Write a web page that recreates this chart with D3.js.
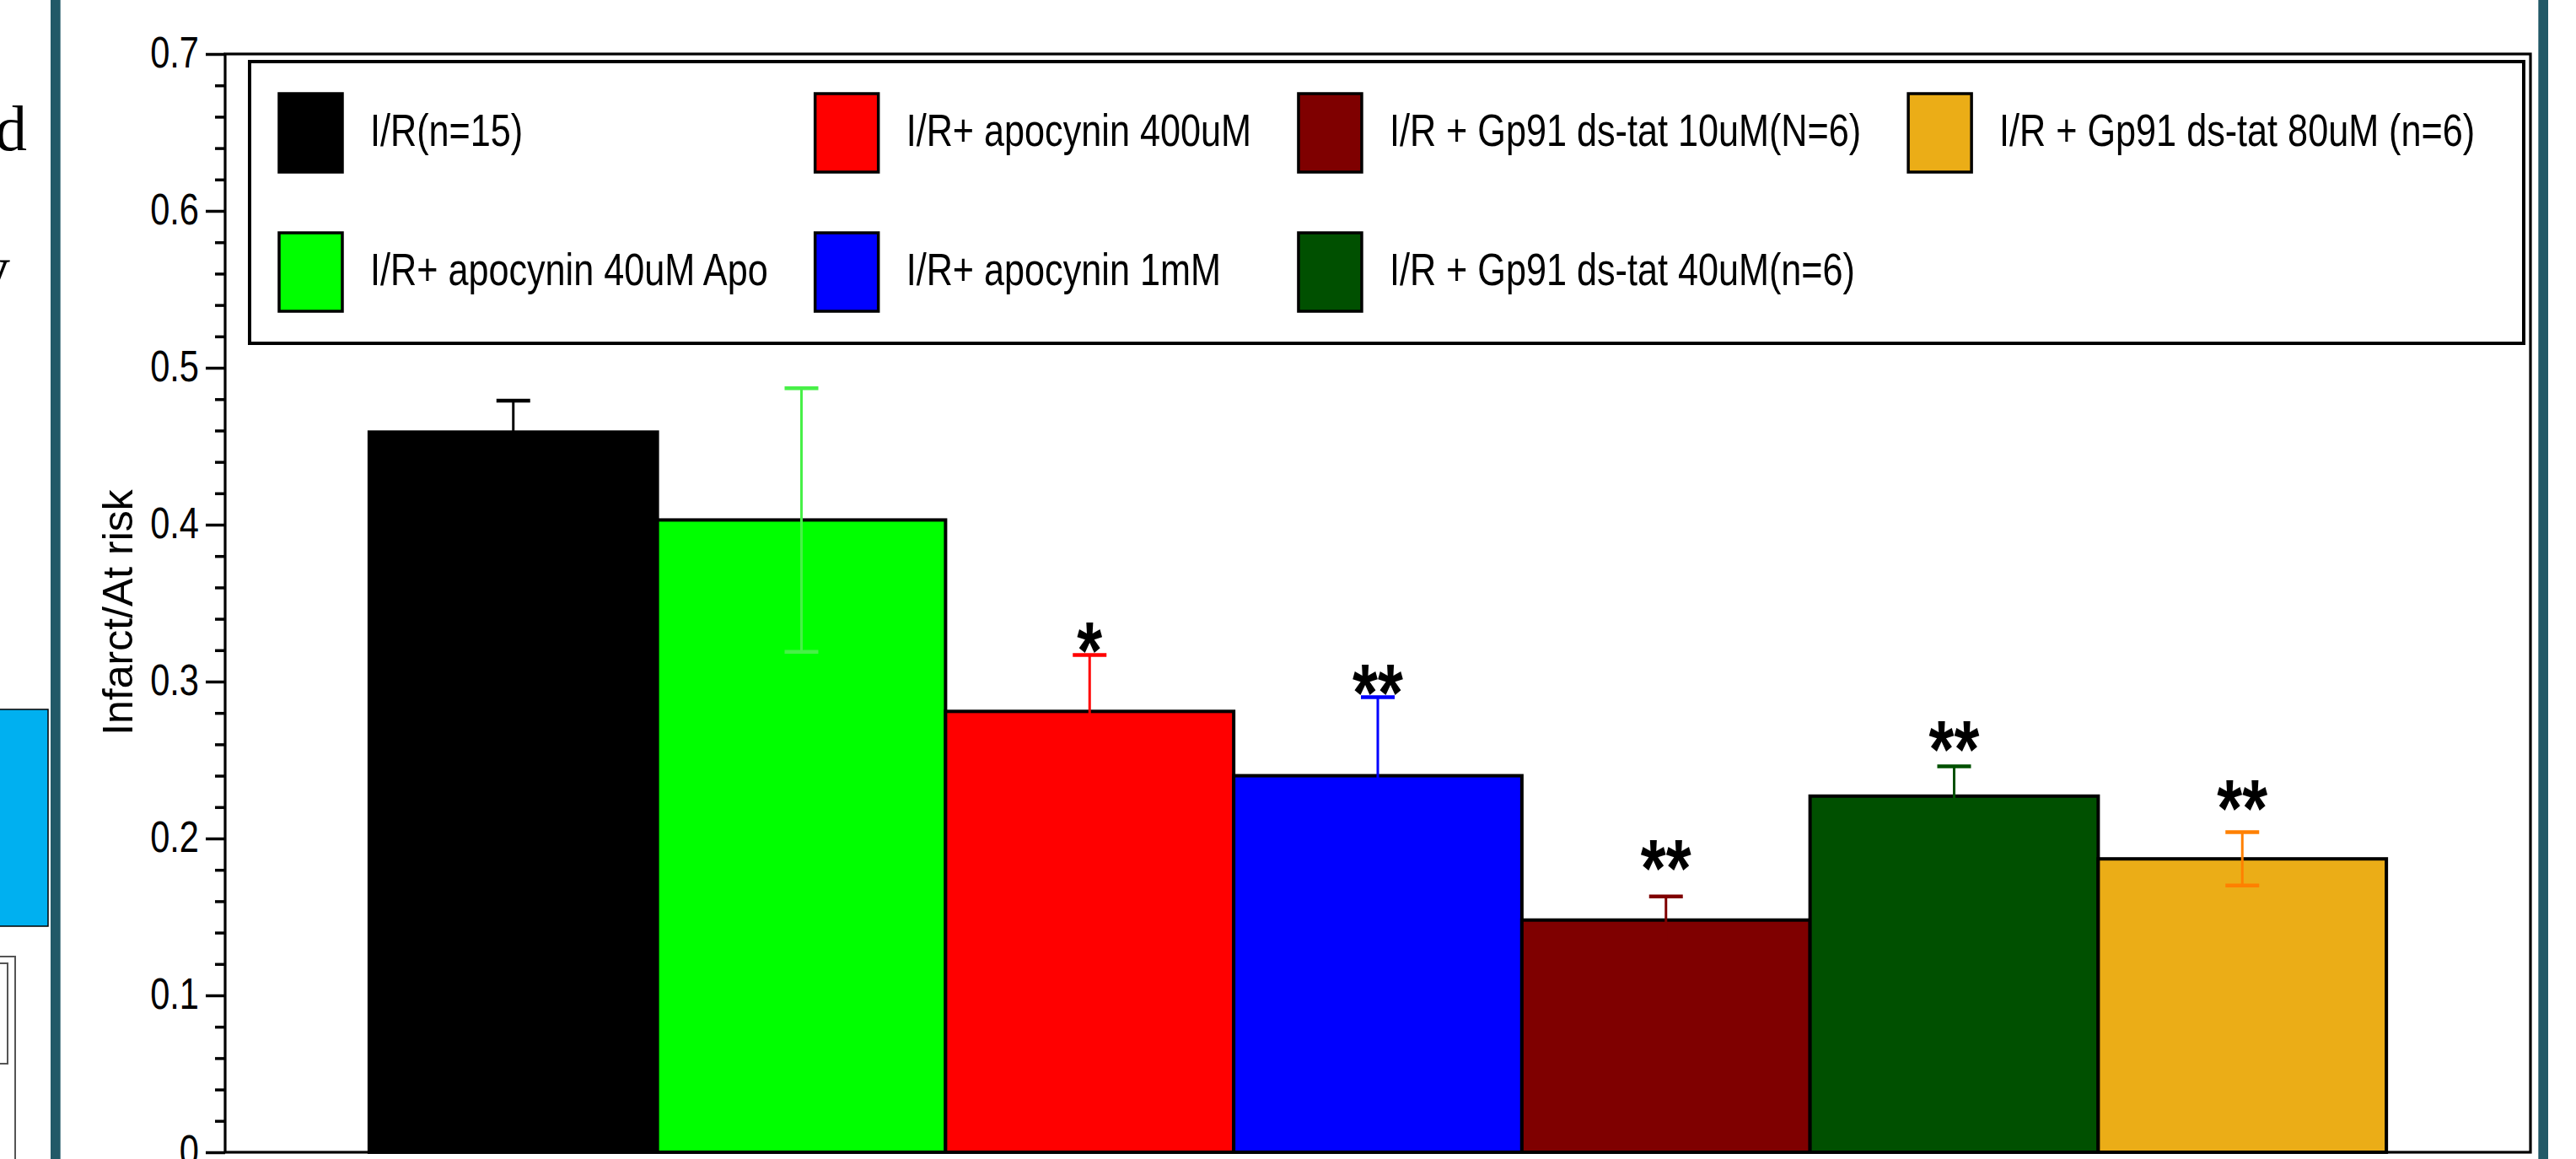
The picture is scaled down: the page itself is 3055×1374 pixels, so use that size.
<!DOCTYPE html>
<html>
<head>
<meta charset="utf-8">
<script src="https://cdn.jsdelivr.net/npm/d3@7"></script>
<style>
  html, body { margin: 0; padding: 0; background: #ffffff; overflow: hidden; }
  svg { display: block; }
</style>
</head>
<body>
<svg id="chart" width="3055" height="1374"></svg>
<script>
// Treatment groups, in bar order
const groups = [
  "I/R(n=15)",
  "I/R+ apocynin 40uM Apo",
  "I/R+ apocynin 400uM",
  "I/R+ apocynin 1mM",
  "I/R + Gp91 ds-tat 10uM(N=6)",
  "I/R + Gp91 ds-tat 40uM(n=6)",
  "I/R + Gp91 ds-tat 80uM (n=6)"
];
// Infarct / area at risk, mean and SEM
const means = [0.459, 0.403, 0.281, 0.240, 0.148, 0.227, 0.187];
const sems  = [0.020, 0.084, 0.036, 0.050, 0.015, 0.019, 0.017];
// Significance marks and the level they sit at
const sigMarks  = ["", "", "*", "**", "**", "**", "**"];
const sigLevels = [null, null, 0.318, 0.291, 0.179, 0.255, 0.217];
// Colours
const fills     = ["#000000", "#00ff00", "#ff0000", "#0000ff", "#7f0000", "#005000", "#ebad17"];
const errColors = ["#000000", "#48f048", "#ff0000", "#0000ff", "#7f0000", "#005000", "#ff8000"];
// Axis
const yTicks = [0, 0.1, 0.2, 0.3, 0.4, 0.5, 0.6, 0.7];
const yTickLabels = ["0", "0.1", "0.2", "0.3", "0.4", "0.5", "0.6", "0.7"];
const yLabel = "Infarct/At risk";

const svg = d3.select("#chart");
const W = 3055, H = 1374;
const plot = { left: 267, right: 3001, top: 64, bottom: 1366 };
const FONT = "'Liberation Sans', Arial, Helvetica, sans-serif";
const NARROW = 0.8;   // condensed face

svg.append("rect").attr("width", W).attr("height", H).attr("fill", "#ffffff");

// ---- surrounding page fragments ----
const page = svg.append("g");
page.append("text").attr("x", 32).attr("y", 178).attr("text-anchor", "end")
  .attr("font-family", "'Liberation Serif', 'Times New Roman', serif")
  .attr("font-size", 76).attr("fill", "#000").text("d");
page.append("text").attr("x", 12).attr("y", 344).attr("text-anchor", "end")
  .attr("font-family", "'Liberation Serif', 'Times New Roman', serif")
  .attr("font-size", 76).attr("fill", "#000").text("y");
page.append("rect").attr("x", -4).attr("y", 841).attr("width", 61).attr("height", 257)
  .attr("fill", "#00b0f0").attr("stroke", "#000").attr("stroke-width", 1.5);
page.append("rect").attr("x", -10).attr("y", 1134).attr("width", 28).attr("height", 300)
  .attr("fill", "none").attr("stroke", "#555").attr("stroke-width", 2);
page.append("rect").attr("x", -10).attr("y", 1142).attr("width", 19).attr("height", 119)
  .attr("fill", "none").attr("stroke", "#555").attr("stroke-width", 2);
[[60, 72, 72], [3010, 3022, 3010]].forEach(([x0, x1, edge]) => {
  page.append("rect").attr("x", x0).attr("y", 0).attr("width", x1 - x0).attr("height", H).attr("fill", "#225967");
  page.append("rect").attr("x", edge === x1 ? x1 - 1 : x0).attr("y", 0).attr("width", 1).attr("height", H).attr("fill", "#6a8f99");
});

// ---- scales ----
const x = d3.scaleBand().domain(groups).range([plot.left, plot.right]).paddingInner(0).paddingOuter(0.5);
const y = d3.scaleLinear().domain([0, 0.7]).range([plot.bottom, plot.top]);

// ---- bars ----
const data = groups.map((g, i) => ({ g, m: means[i], e: sems[i], fill: fills[i], ec: errColors[i], mark: sigMarks[i], lvl: sigLevels[i] }));

svg.append("g").selectAll("rect").data(data).join("rect")
  .attr("x", d => x(d.g))
  .attr("y", d => y(d.m))
  .attr("width", x.bandwidth())
  .attr("height", d => y(0) - y(d.m))
  .attr("fill", d => d.fill)
  .attr("stroke", "#000")
  .attr("stroke-width", 4);

// ---- error bars ----
const eb = svg.append("g").selectAll("g").data(data).join("g")
  .attr("transform", d => `translate(${x(d.g) + x.bandwidth() / 2},0)`);
eb.append("line")
  .attr("y1", d => y(d.m - d.e)).attr("y2", d => y(d.m + d.e))
  .attr("stroke", d => d.ec).attr("stroke-width", 3);
eb.append("line")
  .attr("x1", -20).attr("x2", 20)
  .attr("y1", d => y(d.m + d.e)).attr("y2", d => y(d.m + d.e))
  .attr("stroke", d => d.ec).attr("stroke-width", 4.5);
eb.append("line")
  .attr("x1", -20).attr("x2", 20)
  .attr("y1", d => y(d.m - d.e)).attr("y2", d => y(d.m - d.e))
  .attr("stroke", d => d.ec).attr("stroke-width", 4.5);

// ---- significance marks ----
svg.append("g").selectAll("g").data(data.filter(d => d.mark)).join("g")
  .attr("transform", d => `translate(${x(d.g) + x.bandwidth() / 2},${y(d.lvl) + 29}) scale(${NARROW},1)`)
  .append("text")
  .attr("text-anchor", "middle")
  .attr("font-family", FONT).attr("font-weight", "bold").attr("font-size", 96)
  .attr("fill", "#000")
  .text(d => d.mark);

// ---- frame ----
svg.append("rect")
  .attr("x", plot.left).attr("y", plot.top)
  .attr("width", plot.right - plot.left).attr("height", plot.bottom - plot.top)
  .attr("fill", "none").attr("stroke", "#000").attr("stroke-width", 3.2);

// ---- y axis ----
const minorTicks = d3.range(0, 35).map(k => k * 0.02).filter((v, k) => k % 5 !== 0);
const minorAxis = svg.append("g").attr("transform", `translate(${plot.left},0)`)
  .call(d3.axisLeft(y).tickValues(minorTicks).tickSize(12).tickFormat(""));
minorAxis.select(".domain").remove();
minorAxis.selectAll("line").attr("stroke", "#000").attr("stroke-width", 3.5);

const majorAxis = svg.append("g").attr("transform", `translate(${plot.left},0)`)
  .call(d3.axisLeft(y).tickValues(yTicks).tickSize(23)
    .tickFormat((d, i) => yTickLabels[i]));
majorAxis.select(".domain").remove();
majorAxis.selectAll("line").attr("stroke", "#000").attr("stroke-width", 3.5);
majorAxis.selectAll("text")
  .attr("x", 0).attr("dy", null)
  .attr("transform", `translate(-31,15) scale(${NARROW},1)`)
  .attr("text-anchor", "end")
  .attr("font-family", FONT).attr("font-size", 52).attr("fill", "#000");

svg.append("text")
  .attr("transform", "translate(157,726) rotate(-90)")
  .attr("text-anchor", "middle")
  .attr("font-family", FONT).attr("font-size", 50).attr("fill", "#000")
  .text(yLabel);

// ---- legend ----
const legend = svg.append("g");
legend.append("rect")
  .attr("x", plot.left + 29).attr("y", plot.top + 9)
  .attr("width", plot.right - plot.left - 37).attr("height", 334)
  .attr("fill", "#fff").attr("stroke", "#000").attr("stroke-width", 4);

const rowTop = [111, 276];
const swW = 75, swH = 93, textGap = 108, colGap = 56;
let colX = plot.left + 64;
const nCols = Math.ceil(data.length / 2);
for (let c = 0; c < nCols; c++) {
  const items = data.slice(c * 2, c * 2 + 2);
  let maxW = 0;
  items.forEach((d, r) => {
    legend.append("rect")
      .attr("x", colX).attr("y", rowTop[r])
      .attr("width", swW).attr("height", swH)
      .attr("fill", d.fill).attr("stroke", "#000").attr("stroke-width", 3.5);
    const t = legend.append("g")
      .attr("transform", `translate(${colX + textGap},${rowTop[r] + 62}) scale(${NARROW},1)`)
      .append("text")
      .attr("font-family", FONT).attr("font-size", 54).attr("fill", "#000")
      .text(d.g);
    maxW = Math.max(maxW, t.node().getComputedTextLength() * NARROW);
  });
  colX += textGap + maxW + colGap;
}
</script>
</body>
</html>
